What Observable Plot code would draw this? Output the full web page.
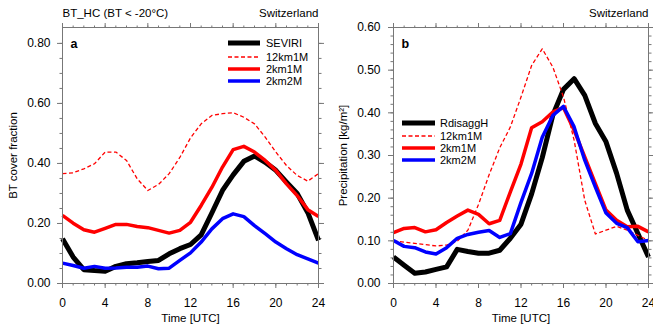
<!DOCTYPE html>
<html><head><meta charset="utf-8">
<script src="https://cdn.jsdelivr.net/npm/d3@7"></script>
<script src="https://cdn.jsdelivr.net/npm/@observablehq/plot@0.6"></script>
<style>
body{margin:0;background:#fff;font-family:"Liberation Sans",Arial,Helvetica,sans-serif;}
#wrap{position:relative;width:653px;height:327px;display:flex;}
.panel{position:relative;}
svg.legend{position:absolute;left:0;top:0;pointer-events:none;overflow:visible}
</style></head><body><div id="wrap"><div class="panel" id="pa"></div><div class="panel" id="pb"></div></div>
<script>
// ---------- data ----------
const hours = d3.range(0, 25);
const xMajor = [0, 4, 8, 12, 16, 20, 24];
const xMinor = d3.range(0, 25);

// Panel a: BT cover fraction
const aSEVIRI = [0.149,0.088,0.046,0.043,0.041,0.057,0.066,0.069,0.073,0.077,0.099,0.116,0.130,0.162,0.235,0.310,0.362,0.407,0.425,0.404,0.377,0.338,0.300,0.236,0.144];
const a12km1M = [0.366,0.369,0.382,0.399,0.438,0.438,0.410,0.349,0.310,0.330,0.366,0.420,0.485,0.532,0.560,0.566,0.569,0.554,0.532,0.488,0.438,0.393,0.360,0.341,0.366];
const a2km1M  = [0.227,0.201,0.179,0.171,0.184,0.197,0.197,0.190,0.186,0.177,0.168,0.177,0.204,0.260,0.320,0.388,0.446,0.457,0.438,0.410,0.377,0.332,0.293,0.246,0.223];
const a2km2M  = [0.068,0.060,0.051,0.057,0.051,0.052,0.054,0.054,0.058,0.049,0.051,0.077,0.102,0.138,0.182,0.216,0.232,0.223,0.193,0.166,0.138,0.116,0.096,0.082,0.068];

// Panel b: Precipitation [kg/m2]
const bRdisaggH = [0.062,0.043,0.024,0.027,0.033,0.039,0.080,0.075,0.071,0.071,0.078,0.106,0.139,0.210,0.295,0.395,0.455,0.480,0.441,0.375,0.332,0.258,0.172,0.117,0.062];
const b12km1M   = [0.100,0.097,0.094,0.091,0.088,0.090,0.099,0.125,0.185,0.255,0.318,0.367,0.437,0.511,0.550,0.507,0.437,0.336,0.195,0.116,0.125,0.134,0.125,0.113,0.101];
const b2km1M    = [0.119,0.129,0.131,0.121,0.126,0.143,0.158,0.172,0.162,0.140,0.148,0.215,0.280,0.365,0.379,0.402,0.412,0.359,0.297,0.234,0.172,0.148,0.133,0.134,0.121];
const b2km2M    = [0.101,0.087,0.084,0.074,0.069,0.084,0.106,0.115,0.120,0.124,0.108,0.117,0.190,0.258,0.343,0.394,0.415,0.367,0.289,0.226,0.165,0.141,0.131,0.098,0.101];

const aYMajor = [0, 0.2, 0.4, 0.6, 0.8];
const aYMinor = d3.range(0, 17).map(i => i * 0.05);
const bYMajor = [0, 0.1, 0.2, 0.3, 0.4, 0.5, 0.6];
const bYMinor = d3.range(0, 31).map(i => i * 0.02);

const styles = {
  obs:   {stroke: "#000", strokeWidth: 5},
  c12:   {stroke: "#ff0000", strokeWidth: 1.3, strokeDasharray: "4,2.5"},
  c2m1:  {stroke: "#ff0000", strokeWidth: 3.5},
  c2m2:  {stroke: "#0000ff", strokeWidth: 3.5}
};

const FONT = '"Liberation Sans", Arial, Helvetica, sans-serif';
const AX = "#777";

function panel(o) {
  const lines = o.series.map(s =>
    Plot.line(s.values.map((v, i) => ({hour: hours[i], value: v})),
      {x: "hour", y: "value", ...styles[s.style], strokeLinejoin: "round", strokeLinecap: "butt"}));
  const noText = () => "";
  return Plot.plot({
    width: o.width, height: 327,
    marginLeft: o.marginLeft, marginRight: o.marginRight, marginTop: 27, marginBottom: 44,
    x: {domain: [0, 24]},
    y: {domain: o.yDomain},
    style: {fontFamily: FONT, fontSize: "12px", color: "#000", background: "#fff", overflow: "visible"},
    marks: [
      Plot.axisX({anchor: "bottom", ticks: xMinor, tickSize: 2.5, tickFormat: noText, stroke: AX, label: null}),
      Plot.axisX({anchor: "bottom", ticks: xMajor, tickSize: 5, tickPadding: 10, tickFormat: d => String(d), stroke: AX, label: null, fontSize: 12}),
      Plot.axisX({anchor: "top", ticks: xMinor, tickSize: 2.5, tickFormat: noText, stroke: AX, label: null}),
      Plot.axisX({anchor: "top", ticks: xMajor, tickSize: 5, tickFormat: noText, stroke: AX, label: null}),
      Plot.axisY({anchor: "left", ticks: o.yMinor, tickSize: 2.5, tickFormat: noText, stroke: AX, label: null}),
      Plot.axisY({anchor: "left", ticks: o.yMajor, tickSize: 5, tickPadding: o.yPad, tickFormat: d3.format(".2f"), stroke: AX, label: null, fontSize: 12}),
      Plot.axisY({anchor: "right", ticks: o.yMinor, tickSize: 2.5, tickFormat: noText, stroke: AX, label: null}),
      Plot.axisY({anchor: "right", ticks: o.yMajor, tickSize: 5, tickFormat: noText, stroke: AX, label: null}),
      ...lines,
      Plot.frame({stroke: AX, strokeWidth: 1}),
      o.title ? Plot.text([o.title], {frameAnchor: "top-left", textAnchor: "start", lineAnchor: "middle", dy: -14, fontSize: 11.5}) : null,
      Plot.text([o.region], {frameAnchor: "top-right", textAnchor: "end", lineAnchor: "middle", dy: -14, fontSize: 11.5}),
      Plot.text([o.letter], {frameAnchor: "top-left", textAnchor: "start", lineAnchor: "middle", dx: 8, dy: 16, fontSize: 12.5, fontWeight: "bold"}),
      Plot.text(["Time [UTC]"], {frameAnchor: "bottom", textAnchor: "middle", lineAnchor: "middle", dy: 35, fontSize: 11.5}),
      Plot.text([o.ylabel], {frameAnchor: "left", textAnchor: "middle", lineAnchor: "middle", rotate: -90, dx: o.yLabelDx, fontSize: 11.5})
    ]
  });
}

function legend(container, items, x0, x1, ys, tx) {
  const svg = d3.select(container).append("svg").attr("class", "legend")
    .attr("width", 10).attr("height", 10);
  items.forEach((it, i) => {
    const st = styles[it.style];
    svg.append("line").attr("x1", x0).attr("x2", x1).attr("y1", ys[i]).attr("y2", ys[i])
      .attr("stroke", st.stroke).attr("stroke-width", st.strokeWidth)
      .attr("stroke-dasharray", st.strokeDasharray || null);
    svg.append("text").attr("x", tx).attr("y", ys[i]).attr("dy", "0.35em")
      .attr("font-family", FONT).attr("font-size", 11).attr("fill", "#000").text(it.name);
  });
}

const aSeries = [
  {name: "SEVIRI", values: aSEVIRI, style: "obs"},
  {name: "12km1M", values: a12km1M, style: "c12"},
  {name: "2km1M", values: a2km1M, style: "c2m1"},
  {name: "2km2M", values: a2km2M, style: "c2m2"}
];
const bSeries = [
  {name: "RdisaggH", values: bRdisaggH, style: "obs"},
  {name: "12km1M", values: b12km1M, style: "c12"},
  {name: "2km1M", values: b2km1M, style: "c2m1"},
  {name: "2km2M", values: b2km2M, style: "c2m2"}
];

const pa = document.getElementById("pa");
const pb = document.getElementById("pb");
pa.append(panel({width: 327, marginLeft: 62, marginRight: 9, yDomain: [0, 0.853], yMajor: aYMajor, yMinor: aYMinor, yPad: 7,
  series: aSeries, title: "BT_HC (BT < -20°C)", region: "Switzerland", letter: "a", ylabel: "BT cover fraction", yLabelDx: -49}));
pb.append(panel({width: 326, marginLeft: 66, marginRight: 5, yDomain: [0, 0.6], yMajor: bYMajor, yMinor: bYMinor, yPad: 8,
  series: bSeries, title: null, region: "Switzerland", letter: "b", ylabel: "Precipitation [kg/m²]", yLabelDx: -50}));
legend(pa, aSeries, 228, 260, [43, 57, 69, 81], 266);
legend(pb, bSeries, 75, 108, [123, 136, 148, 160], 113);
</script></body></html>
